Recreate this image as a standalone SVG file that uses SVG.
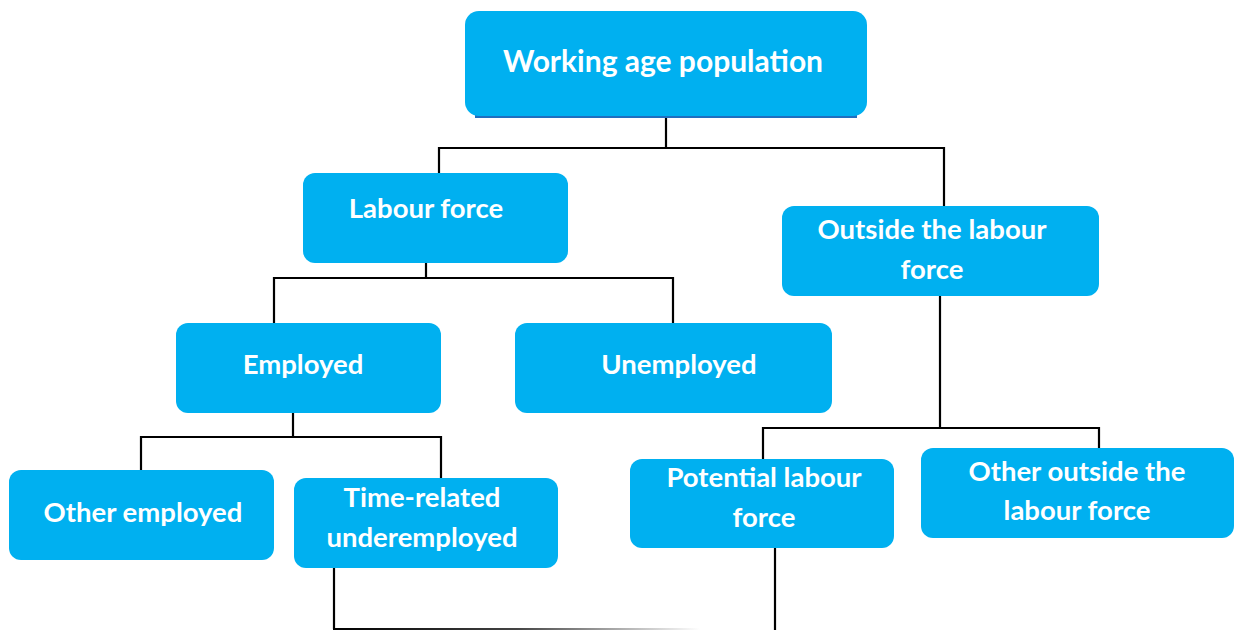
<svg xmlns="http://www.w3.org/2000/svg" width="1234" height="630" viewBox="0 0 1234 630">
<style>
.box{fill:#00B0F0;}
.t{font-family:Lato,"Liberation Sans",sans-serif;font-weight:bold;fill:#fff;text-anchor:middle;font-size:27.5px;}
.big{font-size:30px;}
.c{fill:none;stroke:#000;stroke-width:2.2;}
</style>
<defs>
<linearGradient id="fade" gradientUnits="userSpaceOnUse" x1="334" y1="0" x2="700" y2="0">
<stop offset="0" stop-color="#000"/>
<stop offset="0.5" stop-color="#444"/>
<stop offset="1" stop-color="#fff"/>
</linearGradient>
</defs>
<rect width="1234" height="630" fill="#fff"/>
<g id="connectors">
<polyline class="c" points="666,116 666,148"/>
<polyline class="c" points="439,173 439,148 944,148 944,206"/>
<polyline class="c" points="426,263 426,278"/>
<polyline class="c" points="274,323 274,278 673,278 673,323"/>
<polyline class="c" points="293,413 293,437"/>
<polyline class="c" points="141,470 141,437 441,437 441,478"/>
<polyline class="c" points="940,296 940,428"/>
<polyline class="c" points="763,459 763,428 1099,428 1099,448"/>
<polyline class="c" points="775,548 775,630"/>
<polyline class="c" points="334,568 334,629"/>
<line x1="333" y1="629" x2="700" y2="629" stroke="url(#fade)" stroke-width="2.2"/>
</g>
<g id="working-age">
<rect x="475" y="110" width="382" height="8" fill="#1F6FC0"/>
<rect class="box" x="465" y="11" width="402" height="105" rx="14"/>
<text class="t big" x="663" y="72">Working age population</text>
</g>
<g id="labour-force">
<rect class="box" x="303" y="173" width="265" height="90" rx="12"/>
<text class="t" x="426" y="218">Labour force</text>
</g>
<g id="outside">
<rect class="box" x="782" y="206" width="317" height="90" rx="12"/>
<text class="t" x="932" y="239">Outside the labour</text>
<text class="t" x="932" y="279">force</text>
</g>
<g id="employed">
<rect class="box" x="176" y="323" width="265" height="90" rx="12"/>
<text class="t" x="303" y="374">Employed</text>
</g>
<g id="unemployed">
<rect class="box" x="515" y="323" width="317" height="90" rx="12"/>
<text class="t" x="679" y="374">Unemployed</text>
</g>
<g id="other-employed">
<rect class="box" x="9" y="470" width="265" height="90" rx="12"/>
<text class="t" x="143" y="522">Other employed</text>
</g>
<g id="time-related">
<rect class="box" x="294" y="478" width="264" height="90" rx="12"/>
<text class="t" x="422" y="507">Time-related</text>
<text class="t" x="422" y="547">underemployed</text>
</g>
<g id="potential">
<rect class="box" x="630" y="459" width="264" height="89" rx="12"/>
<text class="t" x="764" y="487">Potential labour</text>
<text class="t" x="764" y="527">force</text>
</g>
<g id="other-outside">
<rect class="box" x="921" y="448" width="313" height="90" rx="12"/>
<text class="t" x="1077" y="481">Other outside the</text>
<text class="t" x="1077" y="520">labour force</text>
</g>
</svg>
